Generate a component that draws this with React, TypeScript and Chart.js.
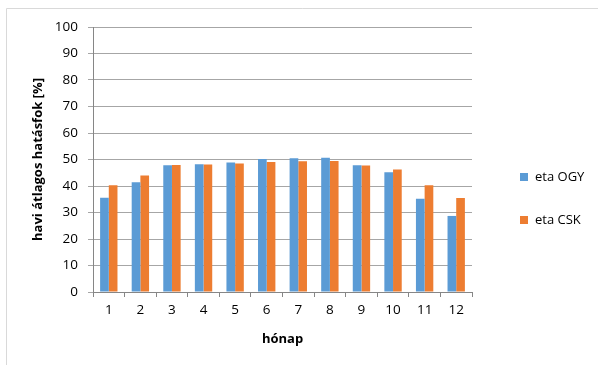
import React, { useEffect, useRef } from "react";
import { Chart, registerables } from "chart.js";

Chart.register(...registerables);

const months = ["1", "2", "3", "4", "5", "6", "7", "8", "9", "10", "11", "12"];
const etaOGY = [35.6, 41.4, 47.8, 48.2, 48.9, 50.2, 50.5, 50.7, 47.8, 45.2, 35.2, 28.7];
const etaCSK = [40.3, 44.0, 47.9, 48.1, 48.5, 49.1, 49.3, 49.4, 47.7, 46.2, 40.3, 35.5];
const seriesNames = ["eta OGY", "eta CSK"];
const colors = ["#5B9BD5", "#ED7D31"];
const yTitle = "havi átlagos hatásfok [%]";
const xTitle = "hónap";

const FONT = "'Open Sans', sans-serif";

const framePlugin = {
  id: "frame",
  afterDraw(chart: any) {
    const ctx = chart.ctx;
    ctx.save();
    ctx.strokeStyle = "#d9d9d9";
    ctx.lineWidth = 1;
    ctx.beginPath();
    ctx.moveTo(6.5, 365);
    ctx.lineTo(6.5, 8.5);
    ctx.lineTo(598, 8.5);
    ctx.stroke();
    // legend
    const items = chart.data.datasets;
    ctx.font = `13px ${FONT}`;
    ctx.textBaseline = "middle";
    items.forEach((ds: any, i: number) => {
      const cy = 177 + i * 43;
      ctx.fillStyle = ds.backgroundColor;
      ctx.fillRect(520, cy - 4, 8, 8);
      ctx.fillStyle = "#000";
      ctx.fillText(ds.label, 535, cy);
    });
    ctx.restore();
  },
};

export default function App() {
  const ref = useRef<HTMLCanvasElement | null>(null);
  useEffect(() => {
    document.body.style.margin = "0";
    const chart = new Chart(ref.current!, {
      type: "bar",
      data: {
        labels: months,
        datasets: [
          { label: seriesNames[0], data: etaOGY, backgroundColor: colors[0], categoryPercentage: 0.55, barPercentage: 1 },
          { label: seriesNames[1], data: etaCSK, backgroundColor: colors[1], categoryPercentage: 0.55, barPercentage: 1 },
        ],
      },
      options: {
        animation: false,
        responsive: false,
        maintainAspectRatio: false,
        layout: { padding: { top: 27, right: 126, left: 0, bottom: 0 } },
        plugins: {
          legend: { display: false },
          tooltip: { enabled: false },
        },
        scales: {
          x: {
            afterFit(scale: any) {
              scale.height = 73;
            },
            grid: { display: true, drawOnChartArea: false, offset: true, tickLength: 5, color: "#868686" },
            border: { color: "#868686" },
            ticks: { color: "#000", font: { family: FONT, size: 13.5 }, padding: 5 },
            title: {
              display: true,
              text: xTitle,
              color: "#000",
              font: { family: FONT, size: 13, weight: "bold" },
              padding: { top: 0, bottom: 18 },
            },
          },
          y: {
            min: 0,
            max: 100,
            afterFit(scale: any) {
              scale.width = 93;
            },
            grid: { color: "#a6a6a6", tickLength: 5 },
            border: { color: "#868686" },
            ticks: { stepSize: 10, color: "#000", font: { family: FONT, size: 13.5 }, padding: 10 },
            title: {
              display: true,
              text: yTitle,
              color: "#000",
              font: { family: FONT, size: 13, weight: "bold" },
              padding: { top: 30, bottom: 0 },
            },
          },
        },
      },
      plugins: [framePlugin],
    });
    return () => chart.destroy();
  }, []);
  return <canvas ref={ref} width={598} height={365} style={{ display: "block" }} />;
}
